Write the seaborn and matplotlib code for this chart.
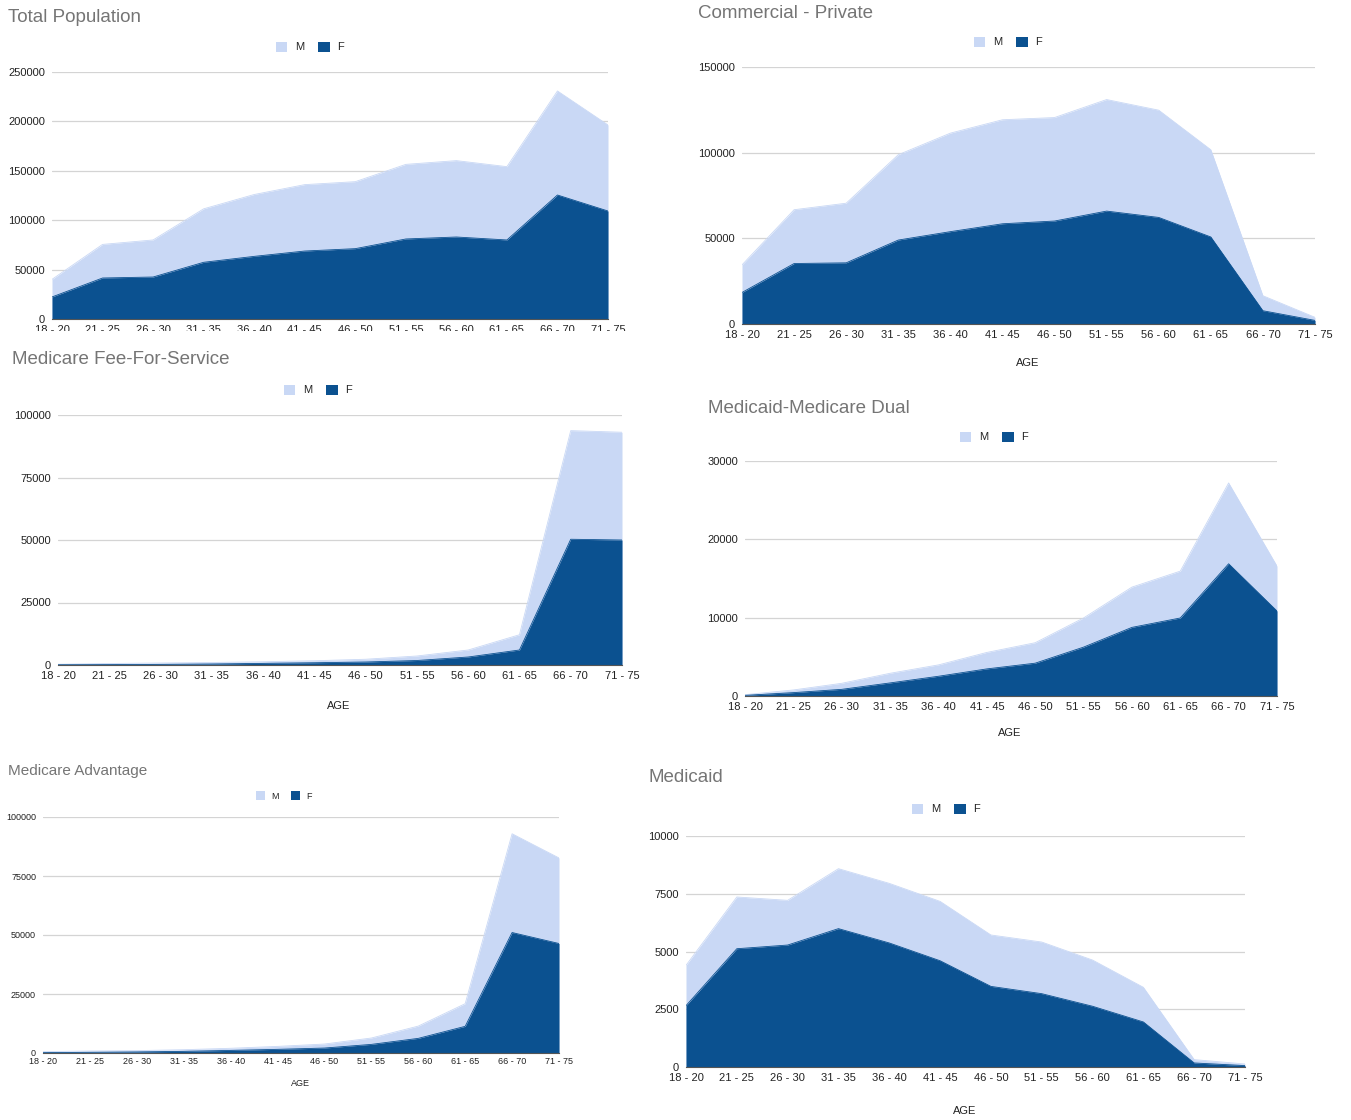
import matplotlib
matplotlib.use("Agg")
import matplotlib.pyplot as plt
from matplotlib.patches import Patch, Rectangle
import numpy as np
import pandas as pd
import seaborn as sns

# ---------------------------------------------------------------- data
age_groups = ["18 - 20", "21 - 25", "26 - 30", "31 - 35", "36 - 40", "41 - 45",
              "46 - 50", "51 - 55", "56 - 60", "61 - 65", "66 - 70", "71 - 75"]

# Total population
total_f = [22300, 41500, 42500, 57400, 63400, 68800, 71200, 81000, 83000, 80000, 125500, 109300]
total_m = [17800, 34000, 37500, 54100, 62600, 67200, 67800, 75500, 77300, 74200, 105300, 87100]

# Commercial - Private
commercial_f = [18400, 35300, 35700, 49000, 53900, 58500, 60100, 65900, 62200, 50800, 7750, 2100]
commercial_m = [16100, 31400, 34800, 49800, 57500, 60700, 60400, 65100, 62600, 50900, 8750, 1800]

# Medicare Fee-For-Service
ffs_f = [100, 150, 250, 400, 650, 900, 1200, 1800, 3200, 6000, 50300, 50000]
ffs_m = [200, 450, 550, 600, 650, 800, 1100, 1800, 2800, 6100, 43450, 43100]

# Medicaid-Medicare Dual
dual_f = [85, 430, 850, 1670, 2520, 3460, 4190, 6240, 8760, 9960, 16880, 10850]
dual_m = [85, 340, 770, 1230, 1450, 2100, 2610, 3720, 5140, 5980, 10320, 5730]

# Medicare Advantage
adv_f = [150, 300, 450, 700, 1100, 1550, 2100, 3650, 6200, 11300, 51050, 46400]
adv_m = [410, 550, 550, 700, 900, 1250, 1700, 2700, 5200, 9600, 41850, 36250]

# Medicaid
medicaid_f = [2655, 5120, 5280, 5990, 5370, 4600, 3490, 3175, 2630, 1950, 175, 60]
medicaid_m = [1745, 2240, 1935, 2595, 2580, 2570, 2225, 2235, 2000, 1500, 145, 70]

# ---------------------------------------------------------------- style
LIGHT = "#c9d8f5"
DARK = "#0b5190"
GRID = "#d4d4d4"
TITLE_GRAY = "#757575"
FONT = ["Liberation Sans", "DejaVu Sans"]

sns.set_theme(style="white")
plt.rcParams["font.family"] = FONT

W, H = 1351, 1120
fig = plt.figure(figsize=(W / 100, H / 100), dpi=100)


def px_rect(left, top, right, bottom):
    return [left / W, 1 - bottom / H, (right - left) / W, (bottom - top) / H]


def draw_panel(box, f_vals, m_vals, yticks, title, title_xy, title_size,
               legend_xy, age_xy, tick_size, legend_size, xpad=4):
    ax = fig.add_axes(px_rect(*box))
    x = np.arange(len(age_groups))
    f = np.asarray(f_vals, dtype=float)
    top = f + np.asarray(m_vals, dtype=float)

    ax.fill_between(x, 0, top, color=LIGHT, lw=0, zorder=2)
    ax.fill_between(x, 0, f, color=DARK, lw=0, zorder=3)
    df = pd.DataFrame({"age": x, "F": f, "total": top})
    sns.lineplot(data=df, x="age", y="total", ax=ax, color=LIGHT, lw=0.6, zorder=2)
    sns.lineplot(data=df, x="age", y="F", ax=ax, color=DARK, lw=0.6, zorder=3)

    ax.set_xlim(0, len(age_groups) - 1)
    ax.set_ylim(0, yticks[-1])
    ax.set_xticks(x)
    ax.set_xticklabels(age_groups, fontsize=tick_size, color="#222222")
    ax.set_yticks(yticks)
    ax.set_yticklabels([str(v) for v in yticks], fontsize=tick_size, color="#222222")
    ax.tick_params(axis="both", length=0)
    ax.tick_params(axis="x", pad=xpad)
    ax.tick_params(axis="y", pad=5)
    ax.set_xlabel("")
    ax.set_ylabel("")
    for v in yticks[1:]:
        ax.axhline(v, color=GRID, lw=0.9, zorder=1)
    for s in ("top", "right", "left"):
        ax.spines[s].set_visible(False)
    ax.spines["bottom"].set_color("#555555")
    ax.spines["bottom"].set_linewidth(0.8)
    ax.spines["bottom"].set_zorder(4)
    ax.set_facecolor("white")

    fig.text(title_xy[0] / W, 1 - title_xy[1] / H, title, fontsize=title_size,
             color=TITLE_GRAY, ha="left", va="center")

    handles = [Patch(facecolor=LIGHT, edgecolor="none", label="M"),
               Patch(facecolor=DARK, edgecolor="none", label="F")]
    fig.legend(handles=handles, loc="center",
               bbox_to_anchor=(legend_xy[0] / W, 1 - legend_xy[1] / H),
               ncol=2, frameon=False, fontsize=legend_size,
               handlelength=1.0, handleheight=1.0, handletextpad=0.7,
               columnspacing=1.3, borderpad=0, borderaxespad=0)

    if age_xy is not None:
        fig.text(age_xy[0] / W, 1 - age_xy[1] / H, "AGE", fontsize=tick_size,
                 color="#222222", ha="center", va="center")
    return ax


draw_panel((52, 72, 608, 319), total_f, total_m,
           [0, 50000, 100000, 150000, 200000, 250000],
           "Total Population", (8, 18), 13.5, (310, 47), None, 8, 8)

draw_panel((742, 67, 1315, 324), commercial_f, commercial_m,
           [0, 50000, 100000, 150000],
           "Commercial - Private", (698, 13), 13.5, (1008, 42), (1028, 363), 8, 8)

draw_panel((58, 415, 622, 665), ffs_f, ffs_m,
           [0, 25000, 50000, 75000, 100000],
           "Medicare Fee-For-Service", (12, 360), 13.5, (318, 390), (339, 706), 8, 8)

draw_panel((745, 461, 1277, 696), dual_f, dual_m,
           [0, 10000, 20000, 30000],
           "Medicaid-Medicare Dual", (708, 409), 13.5, (994, 437), (1010, 733), 8, 8)

draw_panel((43, 817, 559, 1053), adv_f, adv_m,
           [0, 25000, 50000, 75000, 100000],
           "Medicare Advantage", (8, 771), 11, (284, 796), (300, 1084), 6.5, 6.5,
           xpad=3)

draw_panel((686, 836, 1245, 1067), medicaid_f, medicaid_m,
           [0, 2500, 5000, 7500, 10000],
           "Medicaid", (648, 777), 13.5, (946, 809), (965, 1111), 8, 8)

# the lower chart sits over the bottom of the first chart's category labels
fig.add_artist(Rectangle((0, 1 - 345 / H), 650 / W, 14 / H,
                         transform=fig.transFigure, facecolor="white",
                         edgecolor="none", zorder=10))

fig.savefig("out.png", dpi=100, facecolor="white")
